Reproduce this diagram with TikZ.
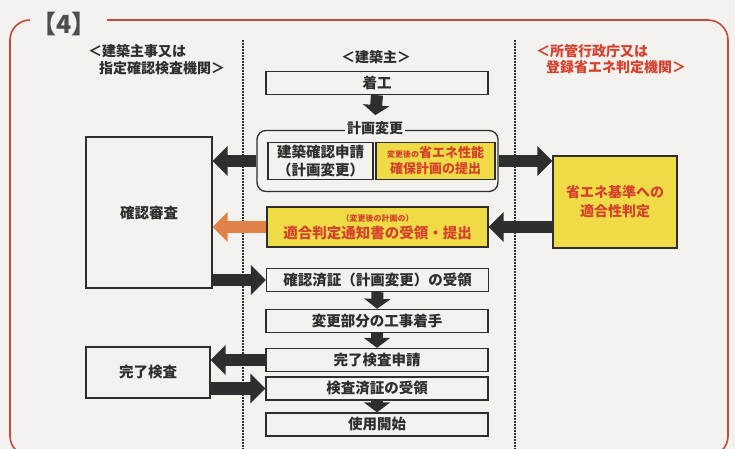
\documentclass[tikz,border=0pt]{standalone}
\usepackage{fontspec}
\setmainfont{Noto Sans CJK JP}
\usetikzlibrary{arrows.meta}
\definecolor{bg}{HTML}{F4F2EE}
\definecolor{ink}{HTML}{2E2E2E}
\definecolor{yel}{HTML}{EEDB45}
\definecolor{redt}{HTML}{D6402E}
\definecolor{framec}{HTML}{C8483E}
\definecolor{orng}{HTML}{E0824A}
\newcommand{\fsz}[2]{\fontsize{#1}{#2}\selectfont}
\begin{document}
\begin{tikzpicture}[x=1pt,y=-1pt,
  box/.style={draw=ink,line width=1.3pt,minimum width=222pt,minimum height=23pt,inner sep=0pt,
    font={\bfseries\fsz{14.5}{18}},text=ink,align=center},
  ybox/.style={box,fill=yel,text=redt,font={\bfseries\fsz{13}{16}}},
  grp/.style={draw=ink,line width=1.3pt,rounded corners=9pt,minimum width=241pt,minimum height=61pt,inner sep=0pt},
  hdr/.style={anchor=west,inner sep=0pt,font={\bfseries\fsz{14}{16}},text=ink},
  bigarrow/.style={draw=ink,line width=12.5pt,-{Triangle[width=29pt,length=15pt]}},
  dnarrow/.style={draw=ink,line width=12pt,-{Triangle[width=26pt,length=10pt]}},
  sep/.style={draw=ink,line width=1.2pt,dash pattern=on 2pt off 1pt}
]
\useasboundingbox (0,0) rectangle (735,449);
\fill[bg] (0,0) rectangle (735,449);
\begin{scope}
\clip (0,0) rectangle (735,449);
\draw[framec,line width=1.6pt,rounded corners=20pt] (30,20) -| (10,456) -| (728,20) -- (107,20);
\end{scope}
\node[inner sep=0pt,text=ink!85,font={\bfseries\fsz{25}{28}}] (num) at (64,24) {【4】};

% separators
\coordinate (s1t) at (243,40); \coordinate (s1b) at (243,449);
\coordinate (s2t) at (515,40); \coordinate (s2b) at (515,449);
\draw[sep] (s1t) -- (s1b);
\draw[sep] (s2t) -- (s2b);

% headers
\node[hdr] (hl1) at (88,51) {＜建築主事又は};
\node[hdr] (hl2) at (99,68) {指定確認検査機関＞};
\node[hdr,anchor=center] (hm) at (376,57) {＜建築主＞};
\node[hdr,text=redt] (hr1) at (536,51) {＜所管行政庁又は};
\node[hdr,text=redt] (hr2) at (546,67) {登録省エネ判定機関＞};

% middle column
\node[box] (start) at (377,83) {着工};
\node[grp] (group) at (377.5,161) {};
\node[inner sep=2pt,fill=bg,text=ink,font={\bfseries\fsz{14}{16}}] (plabel) at (375,128) {計画変更};
\node[box,minimum width=105pt,minimum height=37pt] (app) at (320.5,161) {建築確認申請\\（計画変更）};
\node[ybox,minimum width=119pt,minimum height=37pt] (plan) at (435.5,161) {{\fsz{8}{16}変更後の}省エネ性能\\確保計画の提出};
\node[ybox,minimum width=124pt,minimum height=92pt,font={\bfseries\fsz{14}{19}}] (judge) at (615,202) {省エネ基準への\\適合性判定};
\node[ybox,minimum width=221pt,minimum height=40pt,font={\bfseries\fsz{14.5}{17}}] (notice) at (377.5,227) {{\fsz{8}{10}（変更後の計画の）}\\適合判定通知書の受領・提出};
\node[box,minimum width=126pt,minimum height=151pt] (review) at (149,212.5) {確認審査};
\node[box] (cert) at (377.5,280) {確認済証（計画変更）の受領};
\node[box] (work) at (377,321) {変更部分の工事着手};
\node[box] (apply) at (377,360) {完了検査申請};
\node[box] (certf) at (377,388.5) {検査済証の受領};
\node[box] (use) at (377,424.5) {使用開始};
\node[box,minimum width=124pt,minimum height=51pt] (final) at (148,372.5) {完了検査};

% arrows
\draw[dnarrow,shorten >=4pt] (start.south) -- (plabel.north);
\draw[bigarrow] (group.west) -- (group.west -| review.east);
\draw[bigarrow] (group.east) -- (group.east -| judge.west);
\draw[bigarrow] (notice.east -| judge.west) -- (notice.east);
\draw[bigarrow,draw=orng] (notice.west) -- (notice.west -| review.east);
\draw[bigarrow] (review.east |- cert.west) -- (cert.west);
\draw[dnarrow] (cert.south) -- (work.north);
\draw[dnarrow] (work.south) -- (apply.north);
\draw[dnarrow] (certf.south) -- (use.north);
\draw[bigarrow] (apply.west) -- (apply.west -| final.east);
\draw[bigarrow] (final.east |- certf.west) -- (certf.west);
\end{tikzpicture}
\end{document}
